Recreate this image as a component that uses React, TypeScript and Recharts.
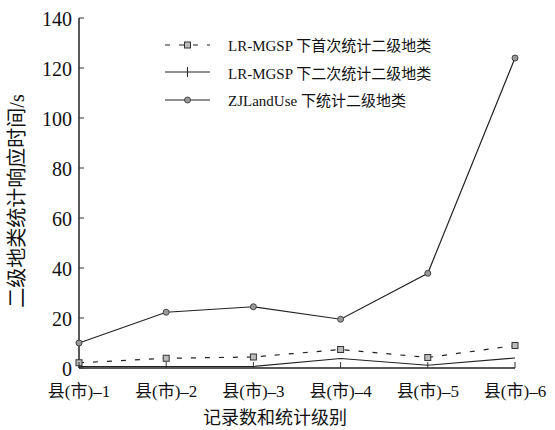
import React from 'react';
import { LineChart, Line, XAxis, YAxis } from 'recharts';

const categories = ['县(市)–1', '县(市)–2', '县(市)–3', '县(市)–4', '县(市)–5', '县(市)–6'];
const firstStat = [2.1, 3.9, 4.4, 7.4, 4.2, 9.0];
const secondStat = [0.6, 0.6, 0.6, 3.8, 1.1, 4.0];
const zjStat = [10, 22.3, 24.5, 19.5, 37.9, 124];
const yTicks = [0, 20, 40, 60, 80, 100, 120, 140];
const seriesNames = ['LR-MGSP 下首次统计二级地类', 'LR-MGSP 下二次统计二级地类', 'ZJLandUse 下统计二级地类'];

const data = categories.map((name, i) => ({
  name,
  first: firstStat[i],
  second: secondStat[i],
  zj: zjStat[i],
}));

const FONT = '"Liberation Serif", "Noto Sans CJK SC", serif';

const XTick = (props: any) => {
  const { x, y, payload } = props;
  return (
    <g>
      <line x1={x} x2={x} y1={y} y2={y - 6} stroke="#333" strokeWidth={1} />
      <text x={x} y={y + 23} textAnchor="middle" dominantBaseline="central" fontSize={17} fontFamily={FONT} fill="#111">
        {payload.value}
      </text>
    </g>
  );
};

const YTick = (props: any) => {
  const { x, y, payload } = props;
  return (
    <g>
      <line x1={x} x2={x + 5} y1={y} y2={y} stroke="#333" strokeWidth={1} />
      <text x={x - 7} y={y + 1} textAnchor="end" dominantBaseline="central" fontSize={20} fontFamily={FONT} fill="#111">
        {payload.value}
      </text>
    </g>
  );
};

const SquareDot = (props: any) => {
  const { cx, cy } = props;
  if (cx == null || cy == null) return null;
  return <rect x={cx - 3} y={cy - 3} width={6} height={6} fill="#bbb" stroke="#333" strokeWidth={1} />;
};

const CircleDot = (props: any) => {
  const { cx, cy } = props;
  if (cx == null || cy == null) return null;
  return <circle cx={cx} cy={cy} r={3} fill="#999" stroke="#444" strokeWidth={1} />;
};

const LegendBox = () => {
  const rowStyle: React.CSSProperties = { display: 'flex', alignItems: 'center', height: 27.5 };
  const textStyle: React.CSSProperties = { fontFamily: FONT, fontSize: 15, color: '#111', marginLeft: 18, whiteSpace: 'nowrap' };
  return (
    <div style={{ position: 'absolute', left: 165, top: 31, width: 320 }}>
      <div style={rowStyle}>
        <svg width={45} height={12}>
          <line x1={0} x2={45} y1={6} y2={6} stroke="#222" strokeWidth={1.2} strokeDasharray="5 9" />
          <rect x={19.5} y={3} width={6} height={6} fill="#bbb" stroke="#333" />
        </svg>
        <span style={textStyle}>{seriesNames[0]}</span>
      </div>
      <div style={rowStyle}>
        <svg width={45} height={12}>
          <line x1={0} x2={45} y1={6} y2={6} stroke="#222" strokeWidth={1.2} />
          <line x1={22.5} x2={22.5} y1={1} y2={11} stroke="#222" strokeWidth={1} />
        </svg>
        <span style={textStyle}>{seriesNames[1]}</span>
      </div>
      <div style={rowStyle}>
        <svg width={45} height={12}>
          <line x1={0} x2={45} y1={6} y2={6} stroke="#222" strokeWidth={1.2} />
          <circle cx={22.5} cy={6} r={3} fill="#999" stroke="#444" />
        </svg>
        <span style={textStyle}>{seriesNames[2]}</span>
      </div>
    </div>
  );
};

export default function App() {
  return (
    <div style={{ position: 'absolute', left: 0, top: 0, width: 555, height: 430, background: '#fff' }}>
      <LineChart width={555} height={430} data={data} margin={{ top: 18, right: 40, bottom: 0, left: 0 }}>
        <XAxis
          dataKey="name"
          padding={{ left: 0, right: 0 }}
          tickLine={false}
          tickSize={0}
          tickMargin={0}
          tick={<XTick />}
          interval={0}
          height={62}
          axisLine={{ stroke: '#222', strokeWidth: 1.5 }}
          label={{ value: '记录数和统计级别', position: 'insideBottom', offset: 6, dx: -22, fontSize: 18, fontFamily: FONT, fill: '#111' }}
        />
        <YAxis
          width={79}
          domain={[0, 140]}
          ticks={yTicks}
          interval={0}
          tickLine={false}
          tickSize={0}
          tickMargin={0}
          tick={<YTick />}
          axisLine={{ stroke: '#222', strokeWidth: 1.5 }}
          label={{ value: '二级地类统计响应时间/s', angle: -90, position: 'insideLeft', dx: 12, dy: 8, fontSize: 20, fontFamily: FONT, fill: '#111', style: { textAnchor: 'middle' } }}
        />
        <Line dataKey="first" stroke="#222" strokeWidth={1.2} strokeDasharray="5 9" dot={<SquareDot />} isAnimationActive={false} />
        <Line dataKey="second" stroke="#222" strokeWidth={1.2} dot={false} isAnimationActive={false} />
        <Line dataKey="zj" stroke="#222" strokeWidth={1.2} dot={<CircleDot />} isAnimationActive={false} />
      </LineChart>
      <LegendBox />
    </div>
  );
}
